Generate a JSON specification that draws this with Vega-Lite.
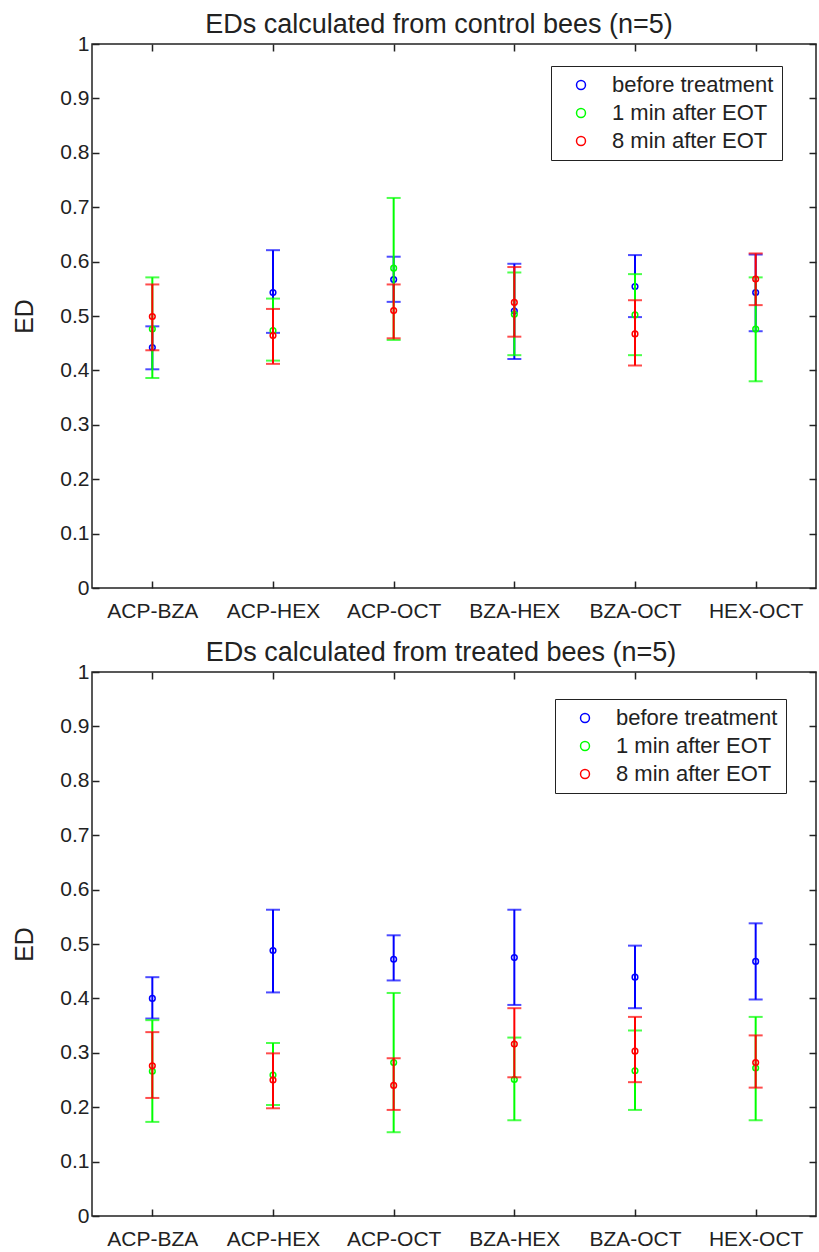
{
  "$schema": "https://vega.github.io/schema/vega-lite/v6.json",
  "background": "white",
  "padding": {"left": 12, "top": 10, "right": 0, "bottom": 0},
  "datasets": {
    "control": [
      {"pair": "ACP-BZA", "series": "before treatment", "mean": 0.442, "lo": 0.402, "hi": 0.481},
      {"pair": "ACP-HEX", "series": "before treatment", "mean": 0.543, "lo": 0.469, "hi": 0.621},
      {"pair": "ACP-OCT", "series": "before treatment", "mean": 0.567, "lo": 0.526, "hi": 0.609},
      {"pair": "BZA-HEX", "series": "before treatment", "mean": 0.509, "lo": 0.421, "hi": 0.596},
      {"pair": "BZA-OCT", "series": "before treatment", "mean": 0.554, "lo": 0.498, "hi": 0.612},
      {"pair": "HEX-OCT", "series": "before treatment", "mean": 0.543, "lo": 0.472, "hi": 0.613},
      {"pair": "ACP-BZA", "series": "1 min after EOT", "mean": 0.476, "lo": 0.386, "hi": 0.571},
      {"pair": "ACP-HEX", "series": "1 min after EOT", "mean": 0.473, "lo": 0.418, "hi": 0.532},
      {"pair": "ACP-OCT", "series": "1 min after EOT", "mean": 0.588, "lo": 0.456, "hi": 0.717},
      {"pair": "BZA-HEX", "series": "1 min after EOT", "mean": 0.503, "lo": 0.428, "hi": 0.580},
      {"pair": "BZA-OCT", "series": "1 min after EOT", "mean": 0.502, "lo": 0.428, "hi": 0.577},
      {"pair": "HEX-OCT", "series": "1 min after EOT", "mean": 0.476, "lo": 0.380, "hi": 0.571},
      {"pair": "ACP-BZA", "series": "8 min after EOT", "mean": 0.499, "lo": 0.437, "hi": 0.558},
      {"pair": "ACP-HEX", "series": "8 min after EOT", "mean": 0.464, "lo": 0.412, "hi": 0.513},
      {"pair": "ACP-OCT", "series": "8 min after EOT", "mean": 0.510, "lo": 0.459, "hi": 0.558},
      {"pair": "BZA-HEX", "series": "8 min after EOT", "mean": 0.525, "lo": 0.462, "hi": 0.590},
      {"pair": "BZA-OCT", "series": "8 min after EOT", "mean": 0.467, "lo": 0.409, "hi": 0.529},
      {"pair": "HEX-OCT", "series": "8 min after EOT", "mean": 0.568, "lo": 0.520, "hi": 0.615}
    ],
    "treated": [
      {"pair": "ACP-BZA", "series": "before treatment", "mean": 0.400, "lo": 0.363, "hi": 0.439},
      {"pair": "ACP-HEX", "series": "before treatment", "mean": 0.488, "lo": 0.411, "hi": 0.563},
      {"pair": "ACP-OCT", "series": "before treatment", "mean": 0.472, "lo": 0.433, "hi": 0.516},
      {"pair": "BZA-HEX", "series": "before treatment", "mean": 0.475, "lo": 0.388, "hi": 0.563},
      {"pair": "BZA-OCT", "series": "before treatment", "mean": 0.439, "lo": 0.382, "hi": 0.497},
      {"pair": "HEX-OCT", "series": "before treatment", "mean": 0.468, "lo": 0.398, "hi": 0.538},
      {"pair": "ACP-BZA", "series": "1 min after EOT", "mean": 0.266, "lo": 0.173, "hi": 0.360},
      {"pair": "ACP-HEX", "series": "1 min after EOT", "mean": 0.259, "lo": 0.204, "hi": 0.318},
      {"pair": "ACP-OCT", "series": "1 min after EOT", "mean": 0.282, "lo": 0.154, "hi": 0.410},
      {"pair": "BZA-HEX", "series": "1 min after EOT", "mean": 0.251, "lo": 0.176, "hi": 0.328},
      {"pair": "BZA-OCT", "series": "1 min after EOT", "mean": 0.267, "lo": 0.195, "hi": 0.341},
      {"pair": "HEX-OCT", "series": "1 min after EOT", "mean": 0.272, "lo": 0.176, "hi": 0.366},
      {"pair": "ACP-BZA", "series": "8 min after EOT", "mean": 0.276, "lo": 0.217, "hi": 0.338},
      {"pair": "ACP-HEX", "series": "8 min after EOT", "mean": 0.250, "lo": 0.198, "hi": 0.299},
      {"pair": "ACP-OCT", "series": "8 min after EOT", "mean": 0.240, "lo": 0.195, "hi": 0.290},
      {"pair": "BZA-HEX", "series": "8 min after EOT", "mean": 0.316, "lo": 0.255, "hi": 0.382},
      {"pair": "BZA-OCT", "series": "8 min after EOT", "mean": 0.303, "lo": 0.246, "hi": 0.366},
      {"pair": "HEX-OCT", "series": "8 min after EOT", "mean": 0.282, "lo": 0.236, "hi": 0.332}
    ]
  },
  "vconcat": [
    {
      "data": {"name": "control"},
      "width": 724,
      "height": 544,
      "title": {"text": "EDs calculated from control bees (n=5)", "fontSize": 27, "font": "Liberation Sans", "fontWeight": "normal", "color": "#222", "anchor": "middle", "frame": "group", "offset": -27, "baseline": "alphabetic", "dx": -15},
      "resolve": {"axis": {"x": "independent", "y": "independent"}},
      "layer": [
        {
          "mark": {"type": "point", "opacity": 0},
          "encoding": {
            "x": {"field": "pair", "type": "nominal", "scale": {"type": "point", "padding": 0.5}, "axis": {"orient": "bottom", "title": null, "labelAngle": 0, "labelPadding": 19, "labelDx": 5}},
            "y": {"field": "mean", "type": "quantitative", "scale": {"domain": [0, 1], "nice": false, "zero": false}, "axis": {"orient": "left", "title": "ED", "values": [0, 0.1, 0.2, 0.3, 0.4, 0.5, 0.6, 0.7, 0.8, 0.9, 1], "format": "~g", "labelPadding": 10, "titlePadding": 22, "labelOverlap": false}}
          }
        },
        {
          "mark": {"type": "point", "opacity": 0},
          "encoding": {
            "x": {"field": "pair", "type": "nominal", "scale": {"type": "point", "padding": 0.5}, "axis": {"orient": "top", "title": null, "labels": false, "minExtent": 0, "maxExtent": 0}},
            "y": {"field": "mean", "type": "quantitative", "scale": {"domain": [0, 1], "nice": false, "zero": false}, "axis": {"orient": "right", "title": null, "labels": false, "minExtent": 0, "maxExtent": 0, "values": [0, 0.1, 0.2, 0.3, 0.4, 0.5, 0.6, 0.7, 0.8, 0.9, 1]}}
          }
        },
        {
          "transform": [{"filter": {"field": "series", "equal": "before treatment"}}],
          "layer": [
            {"mark": {"type": "rule", "color": "#0000FF", "strokeWidth": 2}, "encoding": {"x": {"field": "pair", "type": "nominal", "scale": {"type": "point", "padding": 0.5}, "axis": null}, "y": {"field": "lo", "type": "quantitative", "scale": {"domain": [0, 1], "nice": false, "zero": false}, "axis": null}, "y2": {"field": "hi"}}},
            {"mark": {"type": "tick", "color": "#0000FF", "size": 14, "thickness": 2}, "encoding": {"x": {"field": "pair", "type": "nominal", "scale": {"type": "point", "padding": 0.5}, "axis": null}, "y": {"field": "lo", "type": "quantitative", "scale": {"domain": [0, 1], "nice": false, "zero": false}, "axis": null}}},
            {"mark": {"type": "tick", "color": "#0000FF", "size": 14, "thickness": 2}, "encoding": {"x": {"field": "pair", "type": "nominal", "scale": {"type": "point", "padding": 0.5}, "axis": null}, "y": {"field": "hi", "type": "quantitative", "scale": {"domain": [0, 1], "nice": false, "zero": false}, "axis": null}}},
            {"mark": {"type": "point", "filled": false, "size": 32, "strokeWidth": 1.5, "opacity": 1}, "encoding": {"x": {"field": "pair", "type": "nominal", "scale": {"type": "point", "padding": 0.5}, "axis": null}, "y": {"field": "mean", "type": "quantitative", "scale": {"domain": [0, 1], "nice": false, "zero": false}, "axis": null}, "color": {"field": "series", "type": "nominal", "scale": {"domain": ["before treatment", "1 min after EOT", "8 min after EOT"], "range": ["#0000FF", "#00FF00", "#FF0000"]}, "legend": {"orient": "none", "legendX": 459, "legendY": 22, "title": null, "strokeColor": "#222", "fillColor": "white", "padding": 8, "symbolType": "circle", "symbolSize": 80, "symbolStrokeWidth": 1.5, "symbolOffset": 11, "labelOffset": 20, "labelLimit": 400, "labelFont": "Liberation Sans", "labelFontSize": 22, "labelColor": "#222", "rowPadding": 6}}}}
          ]
        },
        {
          "transform": [{"filter": {"field": "series", "equal": "1 min after EOT"}}],
          "layer": [
            {"mark": {"type": "rule", "color": "#00FF00", "strokeWidth": 2}, "encoding": {"x": {"field": "pair", "type": "nominal", "scale": {"type": "point", "padding": 0.5}, "axis": null}, "y": {"field": "lo", "type": "quantitative", "scale": {"domain": [0, 1], "nice": false, "zero": false}, "axis": null}, "y2": {"field": "hi"}}},
            {"mark": {"type": "tick", "color": "#00FF00", "size": 14, "thickness": 2}, "encoding": {"x": {"field": "pair", "type": "nominal", "scale": {"type": "point", "padding": 0.5}, "axis": null}, "y": {"field": "lo", "type": "quantitative", "scale": {"domain": [0, 1], "nice": false, "zero": false}, "axis": null}}},
            {"mark": {"type": "tick", "color": "#00FF00", "size": 14, "thickness": 2}, "encoding": {"x": {"field": "pair", "type": "nominal", "scale": {"type": "point", "padding": 0.5}, "axis": null}, "y": {"field": "hi", "type": "quantitative", "scale": {"domain": [0, 1], "nice": false, "zero": false}, "axis": null}}},
            {"mark": {"type": "point", "filled": false, "size": 32, "strokeWidth": 1.5, "opacity": 1}, "encoding": {"x": {"field": "pair", "type": "nominal", "scale": {"type": "point", "padding": 0.5}, "axis": null}, "y": {"field": "mean", "type": "quantitative", "scale": {"domain": [0, 1], "nice": false, "zero": false}, "axis": null}, "color": {"field": "series", "type": "nominal", "scale": {"domain": ["before treatment", "1 min after EOT", "8 min after EOT"], "range": ["#0000FF", "#00FF00", "#FF0000"]}}}}
          ]
        },
        {
          "transform": [{"filter": {"field": "series", "equal": "8 min after EOT"}}],
          "layer": [
            {"mark": {"type": "rule", "color": "#FF0000", "strokeWidth": 2}, "encoding": {"x": {"field": "pair", "type": "nominal", "scale": {"type": "point", "padding": 0.5}, "axis": null}, "y": {"field": "lo", "type": "quantitative", "scale": {"domain": [0, 1], "nice": false, "zero": false}, "axis": null}, "y2": {"field": "hi"}}},
            {"mark": {"type": "tick", "color": "#FF0000", "size": 14, "thickness": 2}, "encoding": {"x": {"field": "pair", "type": "nominal", "scale": {"type": "point", "padding": 0.5}, "axis": null}, "y": {"field": "lo", "type": "quantitative", "scale": {"domain": [0, 1], "nice": false, "zero": false}, "axis": null}}},
            {"mark": {"type": "tick", "color": "#FF0000", "size": 14, "thickness": 2}, "encoding": {"x": {"field": "pair", "type": "nominal", "scale": {"type": "point", "padding": 0.5}, "axis": null}, "y": {"field": "hi", "type": "quantitative", "scale": {"domain": [0, 1], "nice": false, "zero": false}, "axis": null}}},
            {"mark": {"type": "point", "filled": false, "size": 32, "strokeWidth": 1.5, "opacity": 1}, "encoding": {"x": {"field": "pair", "type": "nominal", "scale": {"type": "point", "padding": 0.5}, "axis": null}, "y": {"field": "mean", "type": "quantitative", "scale": {"domain": [0, 1], "nice": false, "zero": false}, "axis": null}, "color": {"field": "series", "type": "nominal", "scale": {"domain": ["before treatment", "1 min after EOT", "8 min after EOT"], "range": ["#0000FF", "#00FF00", "#FF0000"]}}}}
          ]
        }
      ]
    },
    {
      "data": {"name": "treated"},
      "width": 724,
      "height": 544,
      "title": {"text": "EDs calculated from treated bees (n=5)", "fontSize": 27, "font": "Liberation Sans", "fontWeight": "normal", "color": "#222", "anchor": "middle", "frame": "group", "offset": -27, "baseline": "alphabetic", "dx": -13},
      "resolve": {"axis": {"x": "independent", "y": "independent"}},
      "layer": [
        {
          "mark": {"type": "point", "opacity": 0},
          "encoding": {
            "x": {"field": "pair", "type": "nominal", "scale": {"type": "point", "padding": 0.5}, "axis": {"orient": "bottom", "title": null, "labelAngle": 0, "labelPadding": 19, "labelDx": 5}},
            "y": {"field": "mean", "type": "quantitative", "scale": {"domain": [0, 1], "nice": false, "zero": false}, "axis": {"orient": "left", "title": "ED", "values": [0, 0.1, 0.2, 0.3, 0.4, 0.5, 0.6, 0.7, 0.8, 0.9, 1], "format": "~g", "labelPadding": 10, "titlePadding": 22, "labelOverlap": false}}
          }
        },
        {
          "mark": {"type": "point", "opacity": 0},
          "encoding": {
            "x": {"field": "pair", "type": "nominal", "scale": {"type": "point", "padding": 0.5}, "axis": {"orient": "top", "title": null, "labels": false, "minExtent": 0, "maxExtent": 0}},
            "y": {"field": "mean", "type": "quantitative", "scale": {"domain": [0, 1], "nice": false, "zero": false}, "axis": {"orient": "right", "title": null, "labels": false, "minExtent": 0, "maxExtent": 0, "values": [0, 0.1, 0.2, 0.3, 0.4, 0.5, 0.6, 0.7, 0.8, 0.9, 1]}}
          }
        },
        {
          "transform": [{"filter": {"field": "series", "equal": "before treatment"}}],
          "layer": [
            {"mark": {"type": "rule", "color": "#0000FF", "strokeWidth": 2}, "encoding": {"x": {"field": "pair", "type": "nominal", "scale": {"type": "point", "padding": 0.5}, "axis": null}, "y": {"field": "lo", "type": "quantitative", "scale": {"domain": [0, 1], "nice": false, "zero": false}, "axis": null}, "y2": {"field": "hi"}}},
            {"mark": {"type": "tick", "color": "#0000FF", "size": 14, "thickness": 2}, "encoding": {"x": {"field": "pair", "type": "nominal", "scale": {"type": "point", "padding": 0.5}, "axis": null}, "y": {"field": "lo", "type": "quantitative", "scale": {"domain": [0, 1], "nice": false, "zero": false}, "axis": null}}},
            {"mark": {"type": "tick", "color": "#0000FF", "size": 14, "thickness": 2}, "encoding": {"x": {"field": "pair", "type": "nominal", "scale": {"type": "point", "padding": 0.5}, "axis": null}, "y": {"field": "hi", "type": "quantitative", "scale": {"domain": [0, 1], "nice": false, "zero": false}, "axis": null}}},
            {"mark": {"type": "point", "filled": false, "size": 32, "strokeWidth": 1.5, "opacity": 1}, "encoding": {"x": {"field": "pair", "type": "nominal", "scale": {"type": "point", "padding": 0.5}, "axis": null}, "y": {"field": "mean", "type": "quantitative", "scale": {"domain": [0, 1], "nice": false, "zero": false}, "axis": null}, "color": {"field": "series", "type": "nominal", "scale": {"domain": ["before treatment", "1 min after EOT", "8 min after EOT"], "range": ["#0000FF", "#00FF00", "#FF0000"]}, "legend": {"orient": "none", "legendX": 463, "legendY": 27, "title": null, "strokeColor": "#222", "fillColor": "white", "padding": 8, "symbolType": "circle", "symbolSize": 80, "symbolStrokeWidth": 1.5, "symbolOffset": 11, "labelOffset": 20, "labelLimit": 400, "labelFont": "Liberation Sans", "labelFontSize": 22, "labelColor": "#222", "rowPadding": 6}}}}
          ]
        },
        {
          "transform": [{"filter": {"field": "series", "equal": "1 min after EOT"}}],
          "layer": [
            {"mark": {"type": "rule", "color": "#00FF00", "strokeWidth": 2}, "encoding": {"x": {"field": "pair", "type": "nominal", "scale": {"type": "point", "padding": 0.5}, "axis": null}, "y": {"field": "lo", "type": "quantitative", "scale": {"domain": [0, 1], "nice": false, "zero": false}, "axis": null}, "y2": {"field": "hi"}}},
            {"mark": {"type": "tick", "color": "#00FF00", "size": 14, "thickness": 2}, "encoding": {"x": {"field": "pair", "type": "nominal", "scale": {"type": "point", "padding": 0.5}, "axis": null}, "y": {"field": "lo", "type": "quantitative", "scale": {"domain": [0, 1], "nice": false, "zero": false}, "axis": null}}},
            {"mark": {"type": "tick", "color": "#00FF00", "size": 14, "thickness": 2}, "encoding": {"x": {"field": "pair", "type": "nominal", "scale": {"type": "point", "padding": 0.5}, "axis": null}, "y": {"field": "hi", "type": "quantitative", "scale": {"domain": [0, 1], "nice": false, "zero": false}, "axis": null}}},
            {"mark": {"type": "point", "filled": false, "size": 32, "strokeWidth": 1.5, "opacity": 1}, "encoding": {"x": {"field": "pair", "type": "nominal", "scale": {"type": "point", "padding": 0.5}, "axis": null}, "y": {"field": "mean", "type": "quantitative", "scale": {"domain": [0, 1], "nice": false, "zero": false}, "axis": null}, "color": {"field": "series", "type": "nominal", "scale": {"domain": ["before treatment", "1 min after EOT", "8 min after EOT"], "range": ["#0000FF", "#00FF00", "#FF0000"]}}}}
          ]
        },
        {
          "transform": [{"filter": {"field": "series", "equal": "8 min after EOT"}}],
          "layer": [
            {"mark": {"type": "rule", "color": "#FF0000", "strokeWidth": 2}, "encoding": {"x": {"field": "pair", "type": "nominal", "scale": {"type": "point", "padding": 0.5}, "axis": null}, "y": {"field": "lo", "type": "quantitative", "scale": {"domain": [0, 1], "nice": false, "zero": false}, "axis": null}, "y2": {"field": "hi"}}},
            {"mark": {"type": "tick", "color": "#FF0000", "size": 14, "thickness": 2}, "encoding": {"x": {"field": "pair", "type": "nominal", "scale": {"type": "point", "padding": 0.5}, "axis": null}, "y": {"field": "lo", "type": "quantitative", "scale": {"domain": [0, 1], "nice": false, "zero": false}, "axis": null}}},
            {"mark": {"type": "tick", "color": "#FF0000", "size": 14, "thickness": 2}, "encoding": {"x": {"field": "pair", "type": "nominal", "scale": {"type": "point", "padding": 0.5}, "axis": null}, "y": {"field": "hi", "type": "quantitative", "scale": {"domain": [0, 1], "nice": false, "zero": false}, "axis": null}}},
            {"mark": {"type": "point", "filled": false, "size": 32, "strokeWidth": 1.5, "opacity": 1}, "encoding": {"x": {"field": "pair", "type": "nominal", "scale": {"type": "point", "padding": 0.5}, "axis": null}, "y": {"field": "mean", "type": "quantitative", "scale": {"domain": [0, 1], "nice": false, "zero": false}, "axis": null}, "color": {"field": "series", "type": "nominal", "scale": {"domain": ["before treatment", "1 min after EOT", "8 min after EOT"], "range": ["#0000FF", "#00FF00", "#FF0000"]}}}}
          ]
        }
      ]
    }
  ],
  "spacing": 84,
  "bounds": "flush",
  "resolve": {"legend": {"color": "independent"}, "scale": {"color": "independent"}},
  "config": {
    "view": {"stroke": "#222", "strokeWidth": 1.5},
    "axis": {"domain": false, "grid": false, "tickSize": -7, "tickWidth": 1.5, "tickColor": "#222", "labelFont": "Liberation Sans", "labelFontSize": 21, "labelColor": "#222", "titleFont": "Liberation Sans", "titleFontSize": 25, "titleFontWeight": "normal", "titleColor": "#222"}
  }
}
